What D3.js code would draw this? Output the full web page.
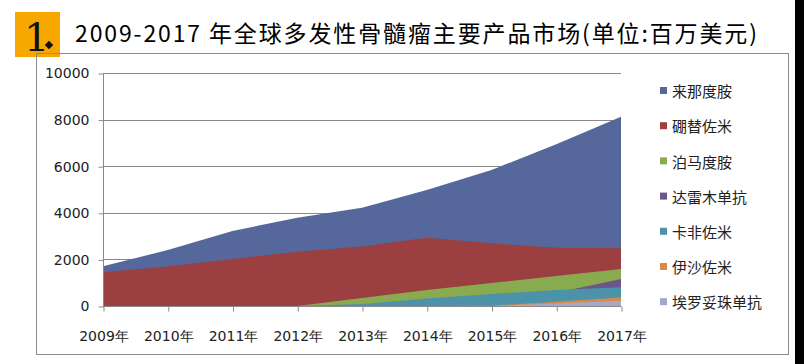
<!DOCTYPE html>
<html lang="zh">
<head>
<meta charset="utf-8" />
<title>多发性骨髓瘤主要产品市场</title>
<script src="https://cdn.jsdelivr.net/npm/d3@7"></script>
<style>
	body { margin: 0; background: #fff; }
	svg { display: block; }
</style>
</head>
<body>
<div id="chart"></div>
<script>
// years on the category axis
var years = ["2009", "2010", "2011", "2012", "2013", "2014", "2015", "2016", "2017"];
var yTicks = [0, 2000, 4000, 6000, 8000, 10000];

// series names (drawing order: first one is at the back)
var names = ["来那度胺", "硼替佐米", "泊马度胺", "达雷木单抗", "卡非佐米", "伊沙佐米", "埃罗妥珠单抗"];

// sales, million USD
var lenalidomide = [1710, 2400, 3220, 3790, 4220, 4980, 5840, 6940, 8120];
var bortezomib   = [1450, 1690, 2020, 2330, 2550, 2930, 2690, 2500, 2480];
var pomalidomide = [0, 0, 0, 0, 340, 690, 990, 1290, 1590];
var daratumumab  = [0, 0, 0, 0, 0, 0, 20, 570, 1160];
var carfilzomib  = [0, 0, 0, 0, 90, 320, 515, 690, 800];
var ixazomib     = [0, 0, 0, 0, 0, 0, 10, 185, 360];
var elotuzumab   = [0, 0, 0, 0, 0, 0, 0, 110, 220];

var colors = ["#56679b", "#9c3f40", "#89ab50", "#6a5688", "#4c93aa", "#dc8947", "#a2a9c9"];
var series = [lenalidomide, bortezomib, pomalidomide, daratumumab, carfilzomib, ixazomib, elotuzumab];

var W = 804, H = 364;
var svg = d3.select("#chart").append("svg").attr("width", W).attr("height", H);

// black strip on the right edge
svg.append("rect").attr("x", 795).attr("y", 0).attr("width", 9).attr("height", H).attr("fill", "#000");

// header: yellow badge + title
svg.append("rect").attr("x", 15).attr("y", 12).attr("width", 45).attr("height", 45).attr("fill", "#f6a800");
svg.append("text").attr("x", 24).attr("y", 51)
	.attr("font-family", "DejaVu Serif").attr("font-size", 40)
	.attr("fill", "#111").text("1");
svg.append("rect").attr("x", 46).attr("y", 42).attr("width", 6).attr("height", 6)
	.attr("fill", "#111").attr("transform", "rotate(45,49,45)");

svg.append("text").attr("x", 75).attr("y", 42)
	.attr("font-family", "Noto Sans CJK SC").attr("font-size", 23).attr("fill", "#000")
	.attr("textLength", 682).attr("lengthAdjust", "spacing")
	.text("2009-2017 年全球多发性骨髓瘤主要产品市场(单位:百万美元)");

// chart frame
svg.append("rect").attr("x", 36.5).attr("y", 53.5).attr("width", 752).attr("height", 301)
	.attr("fill", "none").attr("stroke", "#8c8c8c");

var x = d3.scalePoint().domain(years).range([103, 621]);
var y = d3.scaleLinear().domain([0, 10000]).range([306, 73]);

// gridlines
svg.append("g").selectAll("line").data(yTicks).enter().append("line")
	.attr("x1", 103).attr("x2", 621)
	.attr("y1", function(d) { return Math.round(y(d)) + 0.5; })
	.attr("y2", function(d) { return Math.round(y(d)) + 0.5; })
	.attr("stroke", "#8a8a8a");

// areas, overlapping (not stacked)
var area = d3.area()
	.x(function(d, i) { return x(years[i]); })
	.y0(y(0))
	.y1(function(d) { return y(d); });

svg.append("g").selectAll("path").data(series).enter().append("path")
	.attr("d", area)
	.attr("fill", function(d, i) { return colors[i]; });

// y axis
var yAxis = svg.append("g").attr("transform", "translate(103.5,0.5)")
	.call(d3.axisLeft(y).tickValues(yTicks).tickSize(5).tickPadding(9).tickFormat(d3.format("d")));
yAxis.select(".domain").attr("stroke", "#8a8a8a").attr("d", "M0," + y(10000) + "V" + y(0));
yAxis.selectAll(".tick line").attr("stroke", "#8a8a8a");
yAxis.selectAll("text").attr("font-family", "DejaVu Sans").attr("font-size", 14).attr("fill", "#222");

// x axis
var xAxis = svg.append("g").attr("transform", "translate(0.5," + (Math.round(y(0)) + 0.5) + ")")
	.call(d3.axisBottom(x).tickSize(5).tickPadding(20).tickFormat(function(d) { return d + "年"; }));
xAxis.select(".domain").attr("stroke", "#8a8a8a").attr("d", "M103,0H621");
xAxis.selectAll(".tick line").attr("stroke", "#8a8a8a");
xAxis.selectAll("text").attr("font-family", "DejaVu Sans").attr("font-size", 14).attr("fill", "#222");

// legend
var legend = svg.append("g").selectAll("g").data(names).enter().append("g")
	.attr("transform", function(d, i) { return "translate(660," + (92 + i * 35.2) + ")"; });
legend.append("rect").attr("x", 0).attr("y", -5).attr("width", 7).attr("height", 7)
	.attr("fill", function(d, i) { return colors[i]; });
legend.append("text").attr("x", 12).attr("y", 0).attr("dy", "0.35em")
	.attr("font-family", "Noto Sans CJK SC").attr("font-size", 15).attr("fill", "#222")
	.text(function(d) { return d; });
</script>
</body>
</html>
